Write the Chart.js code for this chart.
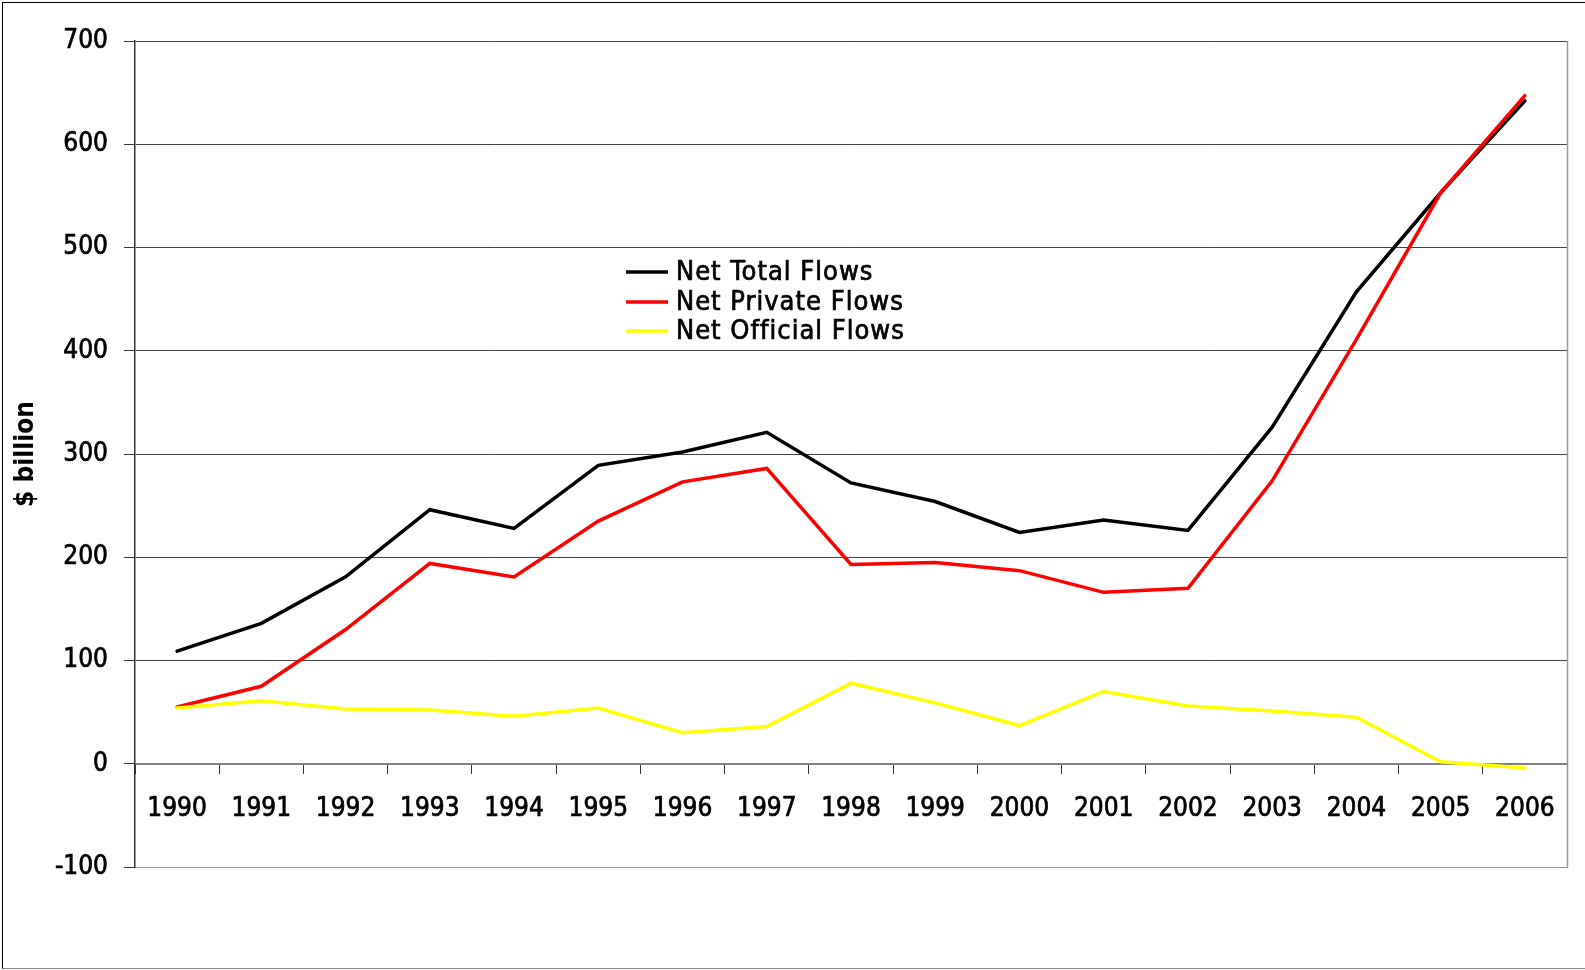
<!DOCTYPE html>
<html><head><meta charset="utf-8">
<script src="https://cdn.jsdelivr.net/npm/chart.js@4.4.0/dist/chart.umd.min.js"></script>
<style>
html,body{margin:0;padding:0;background:#fff;overflow:hidden;}
#wrap{position:relative;width:1585px;height:970px;overflow:hidden;}
#frame{position:absolute;left:2px;top:2px;width:1600px;height:965px;border-left:1px solid #000;border-top:1px solid #000;border-bottom:1px solid #888;}
canvas{position:absolute;left:0;top:0;}
</style></head><body>
<div id="wrap"><div id="frame"></div><canvas id="c" width="1585" height="970"></canvas></div>
<script>
const years = ['1990','1991','1992','1993','1994','1995','1996','1997','1998','1999','2000','2001','2002','2003','2004','2005','2006'];
const netTotal    = [109,136,181,246,228,289,302,321,272,254,224,236,226,326,457,553,642];
const netPrivate  = [55,75,130,194,181,235,273,286,193,195,187,166,170,274,411,553,647];
const netOfficial = [54,61,53,52,46,54,30,36,78,59,37,70,56,51,45,2,-4];
const seriesNames = ['Net Total Flows','Net Private Flows','Net Official Flows'];
const yMin = -100, yMax = 700, yStep = 100;
const yTitle = '$ billion';

const FONT = "'DejaVu Sans Condensed', 'DejaVu Sans', sans-serif";

const frameLines = {
  id: 'frameLines',
  afterDraw(chart) {
    const {ctx, chartArea: a} = chart;
    ctx.save();
    ctx.strokeStyle = '#999';
    ctx.lineWidth = 1.5;
    ctx.beginPath();
    ctx.moveTo(a.right + 0.5, a.top);
    ctx.lineTo(a.right + 0.5, a.bottom + 1);
    ctx.stroke();
    ctx.restore();
  }
};

const customLegend = {
  id: 'customLegend',
  afterDraw(chart) {
    const ctx = chart.ctx;
    const x0 = 626, x1 = 668, tx = 676;
    const rows = [272, 302, 331];
    ctx.save();
    ctx.font = "27px " + FONT;
    try { ctx.letterSpacing = '1px'; } catch (e) {}
    ctx.textBaseline = 'middle';
    ctx.textAlign = 'left';
    chart.data.datasets.forEach((ds, i) => {
      ctx.strokeStyle = ds.borderColor;
      ctx.lineWidth = 3.5;
      ctx.beginPath();
      ctx.moveTo(x0, rows[i]);
      ctx.lineTo(x1, rows[i]);
      ctx.stroke();
      ctx.fillStyle = '#000';
      ctx.strokeStyle = '#000';
      ctx.lineWidth = 0.7;
      ctx.strokeText(ds.label, tx, rows[i] + 1);
      ctx.fillText(ds.label, tx, rows[i] + 1);
    });
    ctx.restore();
  }
};

new Chart(document.getElementById('c'), {
  type: 'line',
  data: {
    labels: years,
    datasets: [
      {label: seriesNames[0], data: netTotal, borderColor: '#000000', order: 2},
      {label: seriesNames[1], data: netPrivate, borderColor: '#ff0000', order: 1},
      {label: seriesNames[2], data: netOfficial, borderColor: '#ffff00', order: 0}
    ]
  },
  options: {
    responsive: false,
    animation: false,
    events: [],
    layout: {padding: {left: 0, right: 18, top: 41, bottom: 103}},
    elements: {
      line: {borderWidth: 3.5, tension: 0, fill: false, borderCapStyle: 'round', borderJoinStyle: 'miter'},
      point: {radius: 0}
    },
    plugins: {legend: {display: false}, tooltip: {enabled: false}},
    scales: {
      x: {
        type: 'category',
        position: {y: 0},
        offset: true,
        grid: {offset: true, drawOnChartArea: false, drawTicks: true, tickLength: 9, color: '#333', lineWidth: 1},
        border: {display: true, color: '#808080', width: 2},
        ticks: {color: '#000', font: {family: FONT, size: 26}, padding: 21, maxRotation: 0, autoSkip: false, textStrokeColor: '#000', textStrokeWidth: 0.7}
      },
      y: {
        min: yMin, max: yMax,
        afterFit(scale) { scale.width = 135; },
        grid: {
          color: (c) => (c.tick && c.tick.value === yMin) ? '#999' : '#444',
          tickColor: '#333',
          lineWidth: 1, tickLength: 11
        },
        border: {display: true, color: '#333', width: 1.5},
        ticks: {stepSize: yStep, color: '#000', font: {family: FONT, size: 26}, padding: 16, textStrokeColor: '#000', textStrokeWidth: 0.7},
        title: {display: true, text: yTitle, color: '#000', font: {family: FONT, size: 26, weight: 'bold'}, padding: {top: 11, bottom: 0}}
      }
    }
  },
  plugins: [frameLines, customLegend]
});
</script>
</body></html>
